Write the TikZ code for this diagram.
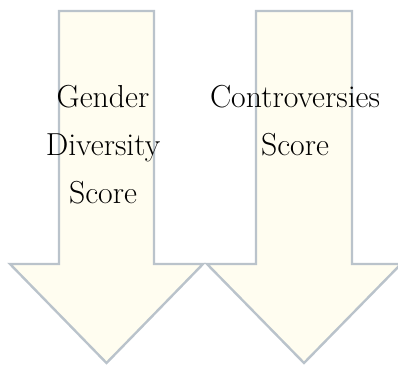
\documentclass[tikz,border=0pt]{standalone}
\usepackage{tikz}
\definecolor{arrowfill}{HTML}{FFFDF0}
\definecolor{arrowline}{HTML}{BAC3CB}
\begin{document}
\begin{tikzpicture}[x=1pt,y=-1pt,
  bigarrow/.style={draw=arrowline,fill=arrowfill,line width=2.4pt,line join=miter},
  arrowlabel/.style={font=\fontsize{31.8}{48}\selectfont,align=center,inner sep=0pt,text=black}]
  \useasboundingbox (0,0) rectangle (398,366);
  % left arrow
  \draw[bigarrow] (59,11) -- (154,11) -- (154,264) -- (203,264) -- (106.5,363)
    -- (10,264) -- (59,264) -- cycle;
  % right arrow
  \draw[bigarrow] (256,11) -- (352,11) -- (352,264) -- (401,264) -- (304,363)
    -- (207,264) -- (256,264) -- cycle;
  \node[arrowlabel] (gds) at (103,145) {Gender\\Diversity\\Score};
  \node[arrowlabel] (cs) at (295,121) {Controversies\\Score};
\end{tikzpicture}
\end{document}
